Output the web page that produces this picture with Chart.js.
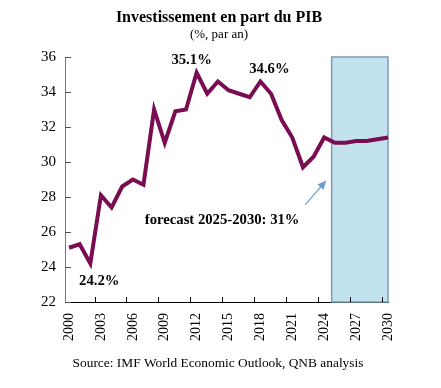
<!DOCTYPE html>
<html>
<head>
<meta charset="utf-8">
<script src="https://cdn.jsdelivr.net/npm/chart.js@4/dist/chart.umd.min.js"></script>
<style>
  html, body { margin: 0; padding: 0; background: #fff; }
  #wrap { width: 441px; height: 388px; }
</style>
</head>
<body>
<div id="wrap"><canvas id="chart"></canvas></div>
<script>
// data
const years = [2000, 2001, 2002, 2003, 2004, 2005, 2006, 2007, 2008, 2009, 2010,
  2011, 2012, 2013, 2014, 2015, 2016, 2017, 2018, 2019, 2020,
  2021, 2022, 2023, 2024, 2025, 2026, 2027, 2028, 2029, 2030]
const investment = [25.1, 25.3, 24.2, 28.1, 27.4, 28.6, 29.0, 28.7, 33.0, 31.1, 32.9,
  33.0, 35.1, 33.9, 34.6, 34.1, 33.9, 33.7, 34.6, 33.9, 32.4,
  31.4, 29.7, 30.3, 31.4, 31.1, 31.1, 31.2, 31.2, 31.3, 31.4]
const tickYears = [2000, 2003, 2006, 2009, 2012, 2015, 2018, 2021, 2024, 2027, 2030]
const yTicks = [22, 24, 26, 28, 30, 32, 34, 36]
const forecastFrom = 2024.7

const callouts = [
  { year: 2012, text: '35.1%', dx: -5, dy: -13 },
  { year: 2018, text: '34.6%', dx: 9, dy: -12 },
  { year: 2002, text: '24.2%', dx: 9, dy: 18 }
]
const forecastNote = { x: 2014.4, y: 26.66, text: 'forecast 2025-2030: 31%' }
const arrowFrom = { x: 2022.2, y: 27.55 }
const arrowTo = { x: 2024.2, y: 28.95 }

const titleText = 'Investissement en part du PIB'
const subtitleText = '(%, par an)'
const sourceText = 'Source: IMF World Economic Outlook, QNB analysis'

const serif = '"Liberation Serif", "Times New Roman", serif'
const lineColor = '#7a0c52'

const extras = {
  id: 'extras',
  beforeDatasetsDraw(chart) {
    const { ctx, chartArea, scales: { x, y } } = chart
    // forecast box
    const left = x.getPixelForValue(forecastFrom)
    const top = y.getPixelForValue(36)
    ctx.save()
    ctx.fillStyle = '#c2e3ee'
    ctx.strokeStyle = '#7d9bb6'
    ctx.lineWidth = 1.5
    ctx.fillRect(left, top, chartArea.right - left, chartArea.bottom - top)
    ctx.strokeRect(left, top, chartArea.right - left, chartArea.bottom - top)

    // tick marks inside the axes
    ctx.strokeStyle = '#555'
    ctx.lineWidth = 1
    yTicks.forEach(v => {
      const py = Math.round(y.getPixelForValue(v)) + 0.5
      ctx.beginPath()
      ctx.moveTo(chartArea.left, py)
      ctx.lineTo(chartArea.left + 6, py)
      ctx.stroke()
    })
    ctx.strokeStyle = '#000'
    tickYears.slice(1).forEach(v => {
      const px = Math.round(x.getPixelForValue(v - 0.6)) + 0.5
      ctx.beginPath()
      ctx.moveTo(px, chartArea.bottom)
      ctx.lineTo(px, chartArea.bottom - 5)
      ctx.stroke()
    })
    ctx.restore()
  },
  afterDraw(chart) {
    const { ctx, scales: { x, y } } = chart
    ctx.save()
    ctx.fillStyle = '#000'
    ctx.textAlign = 'center'
    ctx.textBaseline = 'middle'

    // titles
    ctx.font = 'bold 16px ' + serif
    ctx.fillText(titleText, 219, 18)
    ctx.font = '13px ' + serif
    ctx.fillText(subtitleText, 219, 35)

    ctx.font = 'bold 14.7px ' + serif
    callouts.forEach(c => {
      const i = years.indexOf(c.year)
      ctx.fillText(c.text, x.getPixelForValue(c.year) + c.dx, y.getPixelForValue(investment[i]) + c.dy)
    })
    ctx.fillText(forecastNote.text, x.getPixelForValue(forecastNote.x), y.getPixelForValue(forecastNote.y))

    // arrow
    const x1 = x.getPixelForValue(arrowFrom.x), y1 = y.getPixelForValue(arrowFrom.y)
    const x2 = x.getPixelForValue(arrowTo.x), y2 = y.getPixelForValue(arrowTo.y)
    const ang = Math.atan2(y2 - y1, x2 - x1)
    ctx.strokeStyle = '#6a9fd0'
    ctx.fillStyle = '#6a9fd0'
    ctx.lineWidth = 1.2
    ctx.beginPath()
    ctx.moveTo(x1, y1)
    ctx.lineTo(x2 - 6 * Math.cos(ang), y2 - 6 * Math.sin(ang))
    ctx.stroke()
    ctx.beginPath()
    ctx.moveTo(x2, y2)
    ctx.lineTo(x2 - 9 * Math.cos(ang) + 4 * Math.sin(ang), y2 - 9 * Math.sin(ang) - 4 * Math.cos(ang))
    ctx.lineTo(x2 - 9 * Math.cos(ang) - 4 * Math.sin(ang), y2 - 9 * Math.sin(ang) + 4 * Math.cos(ang))
    ctx.closePath()
    ctx.fill()

    // source
    ctx.fillStyle = '#000'
    ctx.font = '13.4px ' + serif
    ctx.fillText(sourceText, 218, 363)
    ctx.restore()
  }
}

new Chart(document.getElementById('chart'), {
  type: 'line',
  data: {
    datasets: [{
      data: years.map((yr, i) => ({ x: yr, y: investment[i] })),
      borderColor: lineColor,
      borderWidth: 4,
      pointRadius: 0,
      tension: 0,
      borderJoinStyle: 'miter',
      clip: false
    }]
  },
  options: {
    responsive: true,
    maintainAspectRatio: false,
    animation: false,
    layout: { padding: { top: 57, right: 53, left: 0, bottom: 0 } },
    scales: {
      x: {
        type: 'linear',
        min: 1999.62,
        max: 2030,
        afterBuildTicks: s => { s.ticks = tickYears.map(v => ({ value: v })) },
        afterFit: s => { s.height = 86 },
        grid: { display: false, drawTicks: false },
        border: { display: true, color: '#000', width: 1 },
        ticks: {
          autoSkip: false,
          minRotation: 90,
          maxRotation: 90,
          padding: 11,
          color: '#000',
          font: { family: serif, size: 14 },
          callback: v => String(v)
        }
      },
      y: {
        min: 22,
        max: 36,
        afterBuildTicks: s => { s.ticks = yTicks.map(v => ({ value: v })) },
        afterFit: s => { s.width = 65 },
        grid: { display: false, drawTicks: false },
        border: { display: true, color: '#777', width: 1 },
        ticks: {
          padding: 9,
          color: '#000',
          font: { family: serif, size: 15 }
        }
      }
    },
    plugins: {
      legend: { display: false },
      tooltip: { enabled: false },
      title: { display: false }
    }
  },
  plugins: [extras]
})
</script>
</body>
</html>
